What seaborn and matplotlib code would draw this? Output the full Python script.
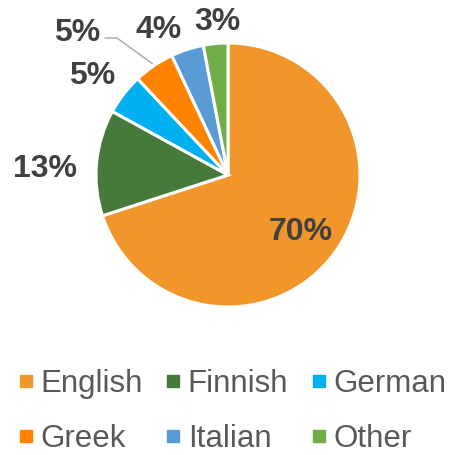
import numpy as np
import matplotlib
matplotlib.use("Agg")
import matplotlib.pyplot as plt
from matplotlib.lines import Line2D
import seaborn as sns

sns.set_theme(style="white")
plt.rcParams["font.family"] = ["Liberation Sans", "DejaVu Sans"]

languages = ["English", "Finnish", "German", "Greek", "Italian", "Other"]
shares = [70, 13, 5, 5, 4, 3]
colors = ["#F0962A", "#467A3A", "#00B0F0", "#FF8200", "#5B9BD5", "#70AD47"]

W, H = 451, 455
fig = plt.figure(figsize=(W / 100, H / 100), dpi=100)
cx, cy, r = 228, 175, 132
ax = fig.add_axes([(cx - r) / W, 1 - (cy + r) / H, 2 * r / W, 2 * r / H])
ax.set_aspect("equal")

wedges, _ = ax.pie(shares, colors=colors, startangle=90, counterclock=False,
                   radius=1, wedgeprops=dict(edgecolor="white", linewidth=2.2))
ax.set_xlim(-1, 1)
ax.set_ylim(-1, 1)
ax.axis("off")

# label placement: (distance from centre in radii, angle in degrees)
label_place = [(0.68, -36.4), (1.39, 176.9), (1.29, 142.9), (1.59, 136.0), (1.24, 115.0), (1.19, 94.0)]
for s, (d, a) in zip(shares, label_place):
    t = np.deg2rad(a)
    ax.text(d * np.cos(t), d * np.sin(t), f"{s}%", ha="center", va="center_baseline",
            fontsize=23, fontweight="bold", color="#404040", clip_on=False)

# leader line for Greek label
w = wedges[3]
mid = np.deg2rad((w.theta1 + w.theta2) / 2)
ex, ey = np.cos(mid), np.sin(mid)
ax.plot([(105 - cx) / r, (117 - cx) / r, ex * 1.02], [(cy - 38) / r, (cy - 38) / r, ey * 1.02],
        color="#A6A6A6", lw=1.0, clip_on=False)

handles = [Line2D([], [], marker="s", linestyle="", markersize=8.5, color=c) for c in colors]
order = [0, 3, 1, 4, 2, 5]
leg = fig.legend([handles[i] for i in order], [languages[i] for i in order], ncol=3,
                 loc="center left", bbox_to_anchor=(18 / W, 1 - 411.5 / H), frameon=False,
                 fontsize=22.5, handlelength=0.5, handletextpad=0.22, columnspacing=0.72,
                 labelspacing=0.8, labelcolor="#595959", borderpad=0, borderaxespad=0)

fig.savefig("out.png", dpi=100)
